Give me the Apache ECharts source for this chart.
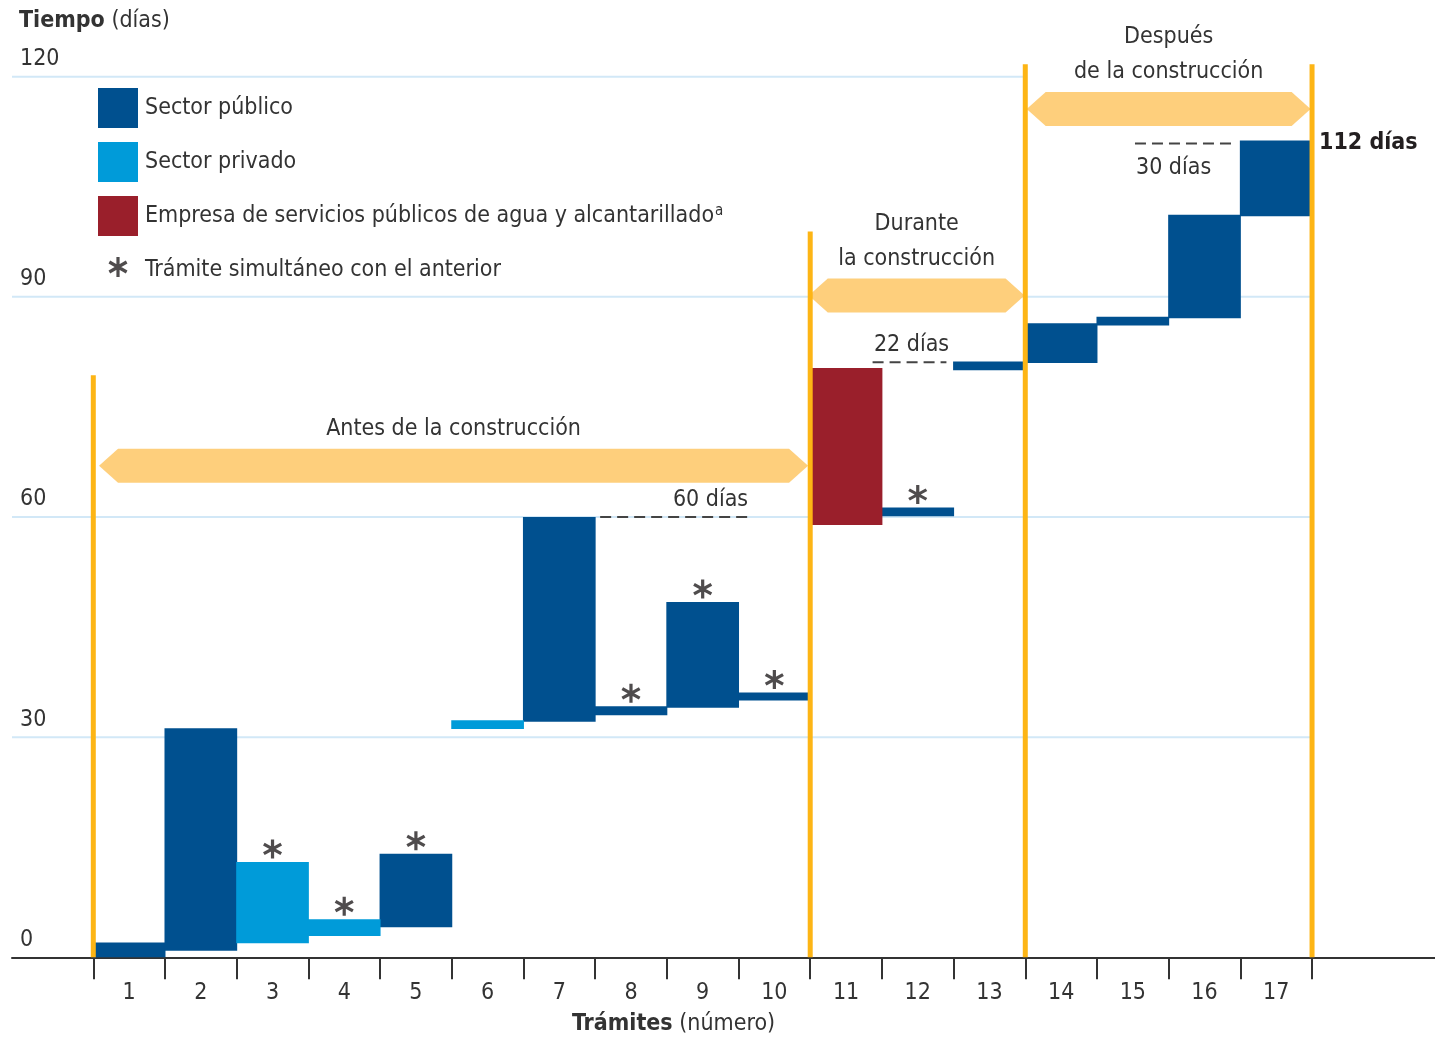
<!DOCTYPE html>
<html>
<head>
<meta charset="utf-8">
<title>Trámites para construir</title>
<script src="https://cdn.jsdelivr.net/npm/echarts@6/dist/echarts.min.js"></script>
<style>
html, body { margin: 0; padding: 0; background: #fff; }
#grafico { width: 1435px; height: 1039px; }
</style>
</head>
<body>
<div id="grafico"></div>
<script>
// ---- datos ----
const tramites = ['1', '2', '3', '4', '5', '6', '7', '8', '9', '10', '11', '12', '13', '14', '15', '16', '17'];
const diaInicio = [0, 0.9, 1.9, 2.9, 4.1, 31.1, 32.1, 33.0, 34.0, 35.0, 58.9, 60.1, 80.0, 81.0, 86.1, 87.1, 101.0];
const diaFin = [2.0, 31.2, 13.0, 5.2, 14.1, 32.3, 60.0, 34.2, 48.4, 36.1, 80.3, 61.3, 81.2, 86.4, 87.3, 101.2, 111.3];
// 0 = publico, 1 = privado, 2 = empresa de agua
const sectorTramite = [0, 0, 1, 1, 0, 1, 0, 0, 0, 0, 2, 0, 0, 0, 0, 0, 0];
const sectores = ['Sector público', 'Sector privado', 'Empresa de servicios públicos de agua y alcantarillado'];
const simultaneoNombre = 'Trámite simultáneo con el anterior';
const simultaneos = [3, 4, 5, 8, 9, 10, 12];
const ejeDias = [0, 30, 60, 90, 120];
const guiaHasta = [17, 17, 17, 13];   // hasta que tramite llega cada linea guia (30, 60, 90, 120)

const fases = ['Antes de la construcción', 'Durante\nla construcción', 'Después\nde la construcción'];
const faseDesde = [0.08, 9.98, 13.02];
const faseHasta = [9.97, 12.99, 16.98];
const faseNivel = [67.0, 90.2, 115.6];
const limitesFase = [0, 10, 13, 17];
const limitesAlto = [79.3, 98.9, 121.7, 121.7];

const refTexto = ['60 días', '22 días', '30 días'];
const refDesde = [7.07, 10.87, 14.53];
const refHasta = [9.19, 11.9, 15.94];
const refNivel = [60, 81.1, 110.9];
const totalTexto = '112 días';

// ---- estilo ----
const fuente = '"Liberation Sans Narrow", "DejaVu Sans Condensed", "Open Sans", sans-serif';
const tam = 23;
const texto = '#333333';
const colores = ['#00508f', '#009bd9', '#9a1f2b'];
const naranja = '#fdb515';
const flecha = '#fecf7c';
const guia = '#d2e8f7';
const xMin = -1.134, xMax = 18.715;

const asterisco = 'M1.6,10 L-1.6,10 L-1.6,-10 L1.6,-10 Z M9.46,3.61 L7.86,6.39 L-9.46,-3.61 L-7.86,-6.39 Z M7.86,-6.39 L9.46,-3.61 L-7.86,6.39 L-9.46,3.61 Z';

var chart = echarts.init(document.getElementById('grafico'), null, { renderer: 'canvas' });

function barra(params, api) {
    var i = api.value(0);
    var p0 = api.coord([i, api.value(2)]);
    var p1 = api.coord([i + 1, api.value(1)]);
    return {
        type: 'rect',
        shape: { x: p0[0] - 0.5, y: p0[1], width: p1[0] - p0[0] + 1, height: p1[1] - p0[1] },
        style: { fill: api.visual('color') }
    };
}

var seriesBarras = sectores.map(function (nombre, s) {
    var datos = [];
    for (var i = 0; i < tramites.length; i++) {
        if (sectorTramite[i] === s) datos.push([i, diaInicio[i], diaFin[i]]);
    }
    return {
        name: nombre,
        type: 'custom',
        z: 3,
        itemStyle: { color: colores[s] },
        renderItem: barra,
        data: datos
    };
});

var option = {
    animation: false,
    backgroundColor: '#fff',
    textStyle: { fontFamily: fuente },
    title: [
        {
            text: '{b|Tiempo} (días)', left: 19, top: 10, padding: 0,
            textStyle: { fontFamily: fuente, fontSize: tam, fontWeight: 'normal', color: texto,
                rich: { b: { fontFamily: fuente, fontSize: tam, fontWeight: 'bold', color: texto } } }
        },
        {
            text: '{b|Trámites} (número)', left: 572, top: 1013, padding: 0,
            textStyle: { fontFamily: fuente, fontSize: tam, fontWeight: 'normal', color: texto,
                rich: { b: { fontFamily: fuente, fontSize: tam, fontWeight: 'bold', color: texto } } }
        }
    ],
    legend: {
        orient: 'vertical', left: 98, top: 88, padding: 0,
        itemWidth: 40, itemHeight: 40, itemGap: 14,
        selectedMode: false,
        textStyle: { fontFamily: fuente, fontSize: tam, color: texto, padding: [0, 0, 0, 2],
            rich: { sup: { fontFamily: fuente, fontSize: 15, color: texto, verticalAlign: 'top', padding: [0, 0, 10, 1] } } },
        formatter: function (n) { return n === sectores[2] ? n + '{sup|a}' : n; },
        data: [
            { name: sectores[0], icon: 'rect' },
            { name: sectores[1], icon: 'rect' },
            { name: sectores[2], icon: 'rect' },
            { name: simultaneoNombre, icon: 'path://M-20,-17 Z M20,23 Z ' + asterisco }
        ]
    },
    grid: { left: 12, right: 0, top: 76.7, bottom: 81.7 },
    xAxis: {
        type: 'value', min: xMin, max: xMax,
        axisLine: { show: true, lineStyle: { color: '#333', width: 2 } },
        axisTick: { show: true, length: 22, lineStyle: { color: '#333', width: 2 },
            customValues: limitesTicks() },
        axisLabel: { show: true, margin: 24, fontFamily: fuente, fontSize: tam, color: texto,
            customValues: tramites.map(function (t, i) { return i + 0.5; }),
            formatter: function (v) { return tramites[Math.round(v - 0.5)]; } },
        splitLine: { show: false }
    },
    yAxis: {
        type: 'value', min: 0, max: 120, interval: 30,
        axisLine: { show: false }, axisTick: { show: false }, splitLine: { show: false },
        axisLabel: { inside: true, margin: 8, fontFamily: fuente, fontSize: tam, color: texto,
            verticalAlign: 'bottom', padding: [0, 0, 6, 0] }
    },
    series: [
        {
            name: 'guias', type: 'custom', z: 1, silent: true,
            data: ejeDias.slice(1).map(function (d, k) { return [guiaHasta[k], d]; }),
            renderItem: function (params, api) {
                var a = api.coord([xMin, api.value(1)]);
                var b = api.coord([api.value(0), api.value(1)]);
                return { type: 'line', shape: { x1: a[0], y1: a[1], x2: b[0], y2: b[1] },
                    style: { stroke: guia, lineWidth: 2 } };
            }
        },
        {
            name: 'fases', type: 'custom', z: 2, silent: true,
            data: fases.map(function (f, k) { return [faseDesde[k], faseHasta[k], faseNivel[k]]; }),
            renderItem: function (params, api) {
                var a = api.coord([api.value(0), api.value(2)]);
                var b = api.coord([api.value(1), api.value(2)]);
                var h = 17, t = 19, y = a[1];
                return {
                    type: 'group',
                    children: [
                        { type: 'polygon', shape: { points: [[a[0], y], [a[0] + t, y - h], [b[0] - t, y - h], [b[0], y], [b[0] - t, y + h], [a[0] + t, y + h]] },
                            style: { fill: flecha } },
                        { type: 'text', x: (a[0] + b[0]) / 2, y: y - 19,
                            style: { text: fases[params.dataIndex], fill: texto, fontFamily: fuente, fontSize: tam,
                                lineHeight: 35, align: 'center', verticalAlign: 'bottom' } }
                    ]
                };
            }
        }
    ].concat(seriesBarras).concat([
        {
            name: 'limites', type: 'custom', z: 4, silent: true,
            data: limitesFase.map(function (x, k) { return [x, limitesAlto[k]]; }),
            renderItem: function (params, api) {
                var a = api.coord([api.value(0), 0]);
                var b = api.coord([api.value(0), api.value(1)]);
                return { type: 'line', shape: { x1: a[0], y1: a[1], x2: b[0], y2: b[1] },
                    style: { stroke: naranja, lineWidth: 5 } };
            }
        },
        {
            name: simultaneoNombre, type: 'scatter', z: 4,
            itemStyle: { color: '#231f20' },
            symbol: 'path://' + asterisco, symbolSize: [19, 19], symbolOffset: [0, -13],
            data: simultaneos.map(function (n) { return [n - 0.5, diaFin[n - 1]]; })
        },
        {
            name: 'referencias', type: 'custom', z: 4, silent: true,
            data: refTexto.map(function (r, k) { return [refDesde[k], refHasta[k], refNivel[k]]; }),
            renderItem: function (params, api) {
                var k = params.dataIndex;
                var a = api.coord([api.value(0), api.value(2)]);
                var b = api.coord([api.value(1), api.value(2)]);
                var lx, ly, al;
                if (k === 0) { lx = b[0] - 4; ly = a[1] - 17; al = 'right'; }
                else if (k === 1) { lx = (a[0] + b[0]) / 2 + 2; ly = a[1] - 17; al = 'center'; }
                else { lx = a[0] + 1; ly = a[1] + 25; al = 'left'; }
                return {
                    type: 'group',
                    children: [
                        { type: 'line', shape: { x1: a[0], y1: a[1], x2: b[0], y2: b[1] },
                            style: { stroke: '#444', lineWidth: 2, lineDash: [11, 6] } },
                        { type: 'text', x: lx, y: ly,
                            style: { text: refTexto[k], fill: texto, fontFamily: fuente, fontSize: tam,
                                align: al, verticalAlign: 'middle' } }
                    ]
                };
            }
        },
        {
            name: 'total', type: 'custom', z: 4, silent: true,
            data: [[tramites.length, diaFin[diaFin.length - 1]]],
            renderItem: function (params, api) {
                var p = api.coord([api.value(0), api.value(1)]);
                return { type: 'text', x: p[0] + 7, y: p[1] + 2,
                    style: { text: totalTexto, fill: '#231f20', fontFamily: fuente, fontSize: tam,
                        fontWeight: 'bold', align: 'left', verticalAlign: 'middle' } };
            }
        }
    ])
};

function limitesTicks() {
    return tramites.map(function (t, i) { return i; }).concat([tramites.length]);
}

chart.setOption(option);
window.addEventListener('resize', chart.resize);
</script>
</body>
</html>
